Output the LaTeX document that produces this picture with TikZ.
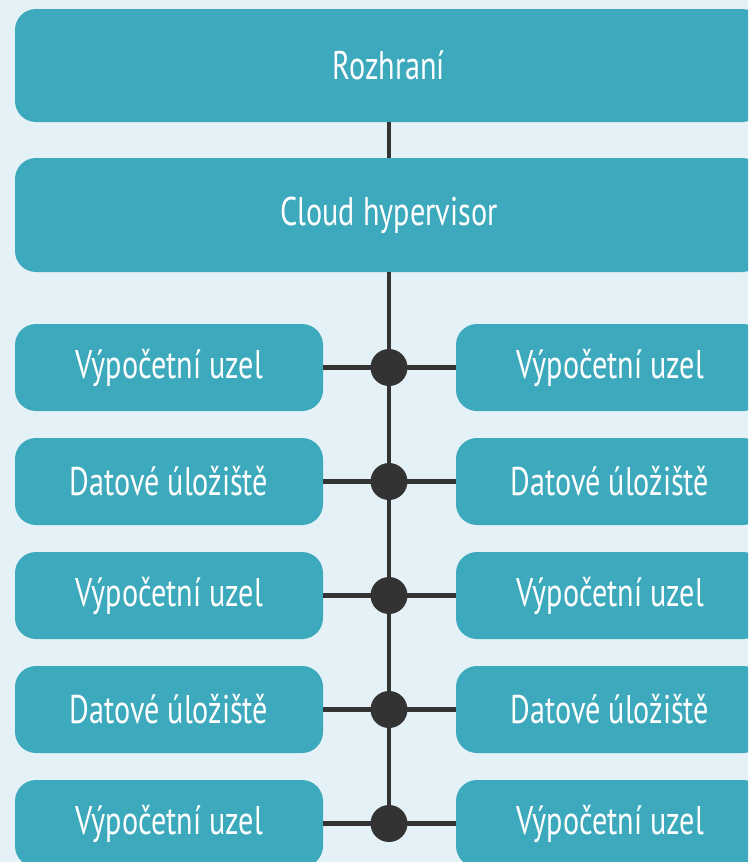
\documentclass[tikz,border=0pt]{standalone}
\usepackage{fontspec}
\setmainfont{PT Sans}[FakeStretch=0.755]
\definecolor{bgblue}{HTML}{E4F1F6}
\definecolor{teal}{HTML}{3DA9BD}
\definecolor{linegray}{HTML}{333333}
\begin{document}
\begin{tikzpicture}[x=1pt,y=-1pt,
  box/.style={fill=teal, rounded corners=21pt, inner sep=0pt, text=white,
    font=\fontsize{40}{42}\selectfont},
  widebox/.style={box, minimum width=748pt, minimum height=113pt},
  rowbox/.style={box, minimum width=308pt, minimum height=87pt},
  conn/.style={draw=linegray, line width=4.2pt},
  dot/.style={circle, fill=linegray, minimum size=37pt, inner sep=0pt}]
\useasboundingbox (0,0) rectangle (748,862);
\fill[bgblue] (0,0) rectangle (748,862);
\clip (0,0) rectangle (748,862);
\node[widebox] (top) at (389,65.5) {Rozhraní};
\node[widebox, minimum height=114pt] (hyp) at (389,215) {Cloud hypervisor};
\draw[conn] (top.south) -- (hyp.north);
\foreach \i/\y/\t in {1/367.5/Výpočetní uzel, 2/481.5/Datové úložiště, 3/595.5/Výpočetní uzel, 4/709.5/Datové úložiště, 5/823.5/Výpočetní uzel}{
  \node[rowbox] (L\i) at (169,\y) {\t};
  \node[rowbox] (R\i) at (610,\y) {\t};
  \coordinate (D\i) at (389,\y);
  \draw[conn] (L\i.east) -- (R\i.west);
}
\draw[conn] (hyp.south) -- (D5);
\foreach \i in {1,...,5}{\node[dot] (dot\i) at (D\i) {};}
\end{tikzpicture}
\end{document}
